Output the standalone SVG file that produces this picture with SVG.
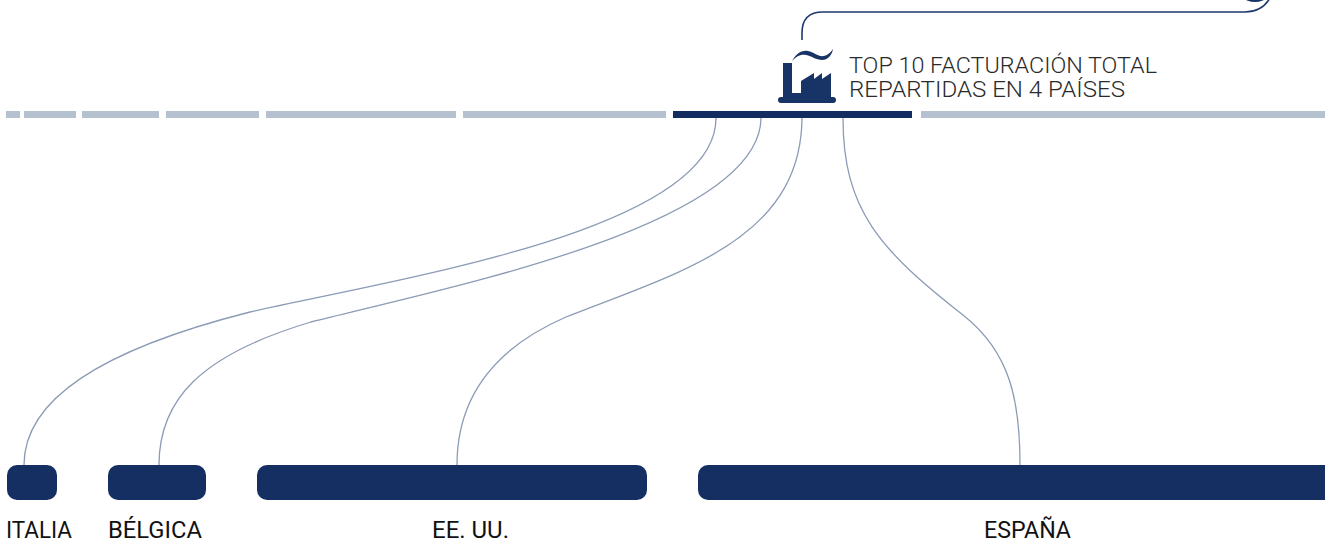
<svg xmlns="http://www.w3.org/2000/svg" width="1325" height="542" viewBox="0 0 1325 542">
<style>
.bar-light{fill:#b5c1ce}
.bar-dark{fill:#142d61}
.node{fill:#152f63}
.conn{fill:none;stroke:#8c9bb6;stroke-width:1.3}
.top{fill:none;stroke:#1f3a6e;stroke-width:1.6}
.icon{fill:#183366}
.title{font-family:Roboto,"Liberation Sans",sans-serif;font-weight:300;font-size:22.5px;fill:#2a2a2a}
.label{font-family:Roboto,"Liberation Sans",sans-serif;font-weight:400;font-size:23px;fill:#111}
</style>
<rect width="1325" height="542" fill="#ffffff"/>
<g id="timeline">
<rect class="bar-light" x="6" y="111" width="14" height="7"/>
<rect class="bar-light" x="24" y="111" width="52" height="7"/>
<rect class="bar-light" x="82" y="111" width="77" height="7"/>
<rect class="bar-light" x="166" y="111" width="93" height="7"/>
<rect class="bar-light" x="266" y="111" width="190" height="7"/>
<rect class="bar-light" x="463" y="111" width="203" height="7"/>
<rect class="bar-dark" x="673" y="111" width="239" height="7"/>
<rect class="bar-light" x="921" y="111" width="404" height="7"/>
</g>
<g id="header">
<path class="top" d="M802,40 V33 Q802,12 823,12 H1245 Q1262,12 1270,-2"/>
<ellipse class="icon" cx="1255" cy="-2" rx="10" ry="4"/>
<g id="factory-icon">
<path class="icon" d="M792,61 C796,54 801,50 808,51 C814,52 818,57 824,56 C828,55 831,52 833,49 C832,55 828,60 822,60 C816,60 812,56 806,55 C800,54 796,57 792,61 Z"/>
<rect class="icon" x="783" y="63" width="9" height="36"/>
<path class="icon" d="M801,99 V81 L814,73 V79 L822,73 V79 L831,73 V99 Z"/>
<rect class="icon" x="792" y="93" width="9" height="6"/>
<rect class="icon" x="778" y="97" width="58" height="6" rx="3"/>
</g>
<text class="title" x="849" y="73" textLength="308" lengthAdjust="spacingAndGlyphs">TOP 10 FACTURACIÓN TOTAL</text>
<text class="title" x="849" y="97" textLength="276" lengthAdjust="spacingAndGlyphs">REPARTIDAS EN 4 PAÍSES</text>
</g>
<g id="connectors">
<path class="conn" d="M716,118 C716,230 400,278 250,312 C100,350 24,400 24,465"/>
<path class="conn" d="M761,118 C760,225 450,287 311,322 C200,355 159,400 159,465"/>
<path class="conn" d="M802,118 C801,240 680,272 566,317 C490,350 457,400 457,465"/>
<path class="conn" d="M843,118 C843,210 880,250 963,315 C1010,352 1020,400 1020,465"/>
</g>
<g id="node-italia">
<rect class="node" x="7" y="465" width="50" height="35" rx="10"/>
<text class="label" x="6" y="538" textLength="66" lengthAdjust="spacingAndGlyphs">ITALIA</text>
</g>
<g id="node-belgica">
<rect class="node" x="108" y="465" width="98" height="35" rx="10"/>
<text class="label" x="108" y="538" textLength="94" lengthAdjust="spacingAndGlyphs">BÉLGICA</text>
</g>
<g id="node-eeuu">
<rect class="node" x="257" y="465" width="390" height="35" rx="10"/>
<text class="label" x="432" y="538" textLength="77" lengthAdjust="spacingAndGlyphs">EE. UU.</text>
</g>
<g id="node-espana">
<rect class="node" x="698" y="465" width="640" height="35" rx="10"/>
<text class="label" x="984" y="538" textLength="87" lengthAdjust="spacingAndGlyphs">ESPAÑA</text>
</g>
</svg>
